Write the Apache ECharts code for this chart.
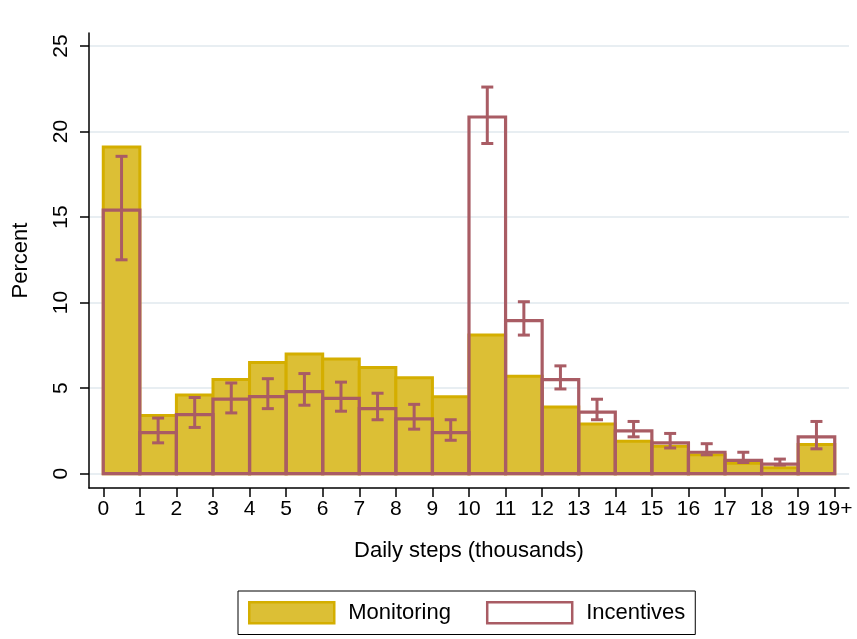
<!DOCTYPE html>
<html>
<head>
<meta charset="utf-8">
<script src="https://cdn.jsdelivr.net/npm/echarts@6/dist/echarts.min.js"></script>
<style>
  html, body { margin: 0; padding: 0; background: #fff; }
  #chart { width: 857px; height: 639px; }
</style>
</head>
<body>
<div id="chart"></div>
<script>
// Distribution of daily steps by treatment arm (percent of person-days)
const binTicks = [0, 1, 2, 3, 4, 5, 6, 7, 8, 9, 10, 11, 12, 13, 14, 15, 16, 17, 18, 19, 20];
const binTickLabels = ['0', '1', '2', '3', '4', '5', '6', '7', '8', '9', '10',
  '11', '12', '13', '14', '15', '16', '17', '18', '19', '19+'];
const yTicks = [0, 5, 10, 15, 20, 25];

const monitoring = [19.1, 3.4, 4.6, 5.5, 6.5, 7.0, 6.7, 6.2, 5.6, 4.5,
  8.1, 5.7, 3.9, 2.9, 1.9, 1.6, 1.1, 0.6, 0.35, 1.7];
const incentives = [15.4, 2.4, 3.45, 4.35, 4.5, 4.8, 4.4, 3.8, 3.2, 2.4,
  20.85, 8.95, 5.5, 3.6, 2.5, 1.8, 1.25, 0.77, 0.55, 2.15];
const incentivesLow = [12.5, 1.8, 2.7, 3.55, 3.8, 4.0, 3.65, 3.15, 2.6, 1.95,
  19.3, 8.1, 4.95, 3.15, 2.15, 1.5, 1.1, 0.65, 0.5, 1.45];
const incentivesHigh = [18.55, 3.25, 4.45, 5.3, 5.55, 5.85, 5.35, 4.7, 4.05, 3.15,
  22.6, 10.05, 6.3, 4.35, 3.05, 2.35, 1.75, 1.25, 0.85, 3.05];

const GOLD_FILL = '#DCBF35';
const GOLD_EDGE = '#D4AE00';
const ROSE = '#A95C64';
const FONT = 'Liberation Sans, Arial, sans-serif';

function histBar(fill, stroke, lw) {
  return function (params, api) {
    const i = api.value(0);
    const v = api.value(1);
    const p0 = api.coord([i, v]);
    const p1 = api.coord([i + 1, 0]);
    return {
      type: 'rect',
      shape: { x: p0[0], y: p0[1], width: p1[0] - p0[0], height: p1[1] - p0[1] },
      style: { fill: fill, stroke: stroke, lineWidth: lw }
    };
  };
}

function errorBar(params, api) {
  const x = api.value(0) + 0.5;
  const lo = api.coord([x, api.value(1)]);
  const hi = api.coord([x, api.value(2)]);
  const cap = 6;
  const st = { stroke: ROSE, lineWidth: 3, fill: null };
  return {
    type: 'group',
    children: [
      { type: 'line', shape: { x1: lo[0], y1: lo[1], x2: hi[0], y2: hi[1] }, style: st },
      { type: 'line', shape: { x1: hi[0] - cap, y1: hi[1], x2: hi[0] + cap, y2: hi[1] }, style: st },
      { type: 'line', shape: { x1: lo[0] - cap, y1: lo[1], x2: lo[0] + cap, y2: lo[1] }, style: st }
    ]
  };
}

const chart = echarts.init(document.getElementById('chart'), null, { renderer: 'canvas' });
chart.setOption({
  animation: false,
  backgroundColor: '#fff',
  textStyle: { fontFamily: FONT },
  grid: { left: 89, right: 8, top: 33, bottom: 151, containLabel: false },
  xAxis: {
    type: 'value',
    min: -0.39,
    max: 20.39,
    name: 'Daily steps (thousands)',
    nameLocation: 'middle',
    nameGap: 52,
    nameTextStyle: { fontSize: 22, color: '#000', fontFamily: FONT },
    axisLine: { show: true, onZero: false, lineStyle: { color: '#000', width: 1.5 } },
    axisTick: { show: true, length: 9, lineStyle: { color: '#000', width: 1.5 }, customValues: binTicks },
    axisLabel: {
      customValues: binTicks,
      margin: 11,
      fontSize: 21,
      color: '#000',
      fontFamily: FONT,
      formatter: function (v) { return binTickLabels[binTicks.indexOf(v)]; }
    },
    splitLine: { show: false }
  },
  yAxis: {
    type: 'value',
    min: -0.84,
    max: 25.76,
    name: 'Percent',
    nameLocation: 'middle',
    nameGap: 57,
    nameTextStyle: { fontSize: 22, color: '#000', fontFamily: FONT },
    axisLine: { show: true, onZero: false, lineStyle: { color: '#000', width: 1.5 } },
    axisTick: { show: true, length: 9, lineStyle: { color: '#000', width: 1.5 }, customValues: yTicks },
    axisLabel: {
      customValues: yTicks,
      rotate: 90,
      margin: 17,
      fontSize: 21,
      color: '#000',
      fontFamily: FONT
    },
    splitLine: { show: true, lineStyle: { color: '#E8EEF2', width: 2 } }
  },
  legend: {
    left: 238,
    top: 591,
    orient: 'horizontal',
    padding: [10, 10, 10, 10],
    borderColor: '#000',
    borderWidth: 1,
    itemWidth: 85,
    itemHeight: 21,
    itemGap: 35,
    textStyle: { fontSize: 22, color: '#000', fontFamily: FONT, padding: [0, 0, 0, 9] },
    data: [
      { name: 'Monitoring', icon: 'rect', itemStyle: { color: GOLD_FILL, borderColor: GOLD_EDGE, borderWidth: 2.5 } },
      { name: 'Incentives', icon: 'rect', itemStyle: { color: '#fff', borderColor: ROSE, borderWidth: 2.5 } }
    ]
  },
  series: [
    {
      name: 'Monitoring',
      type: 'custom',
      renderItem: histBar(GOLD_FILL, GOLD_EDGE, 3),
      encode: { x: 0, y: 1 },
      itemStyle: { color: GOLD_FILL },
      data: monitoring.map(function (v, i) { return [binTicks[i], v]; }),
      z: 2
    },
    {
      name: 'Incentives',
      type: 'custom',
      renderItem: histBar(null, ROSE, 3.2),
      encode: { x: 0, y: 1 },
      itemStyle: { color: ROSE },
      data: incentives.map(function (v, i) { return [binTicks[i], v]; }),
      z: 3
    },
    {
      name: 'Incentives CI',
      type: 'custom',
      renderItem: errorBar,
      encode: { x: 0, y: [1, 2] },
      data: incentivesLow.map(function (v, i) { return [binTicks[i], v, incentivesHigh[i]]; }),
      z: 4
    }
  ]
});
</script>
</body>
</html>
